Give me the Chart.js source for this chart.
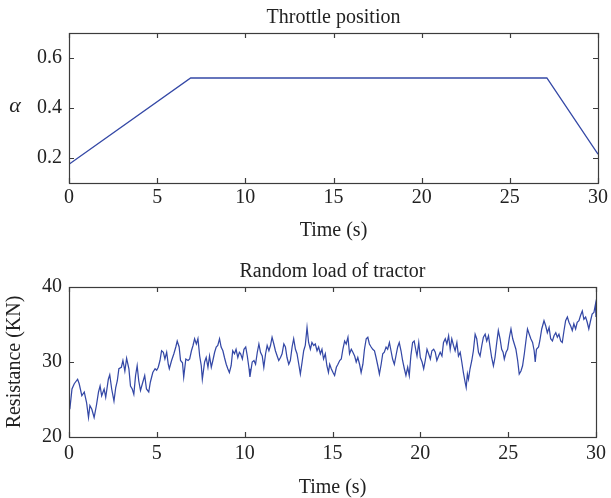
<!DOCTYPE html>
<html>
<head>
<meta charset="utf-8">
<script src="https://cdn.jsdelivr.net/npm/chart.js@4.4.1/dist/chart.umd.min.js"></script>
<style>
  body { margin: 0; background: #fff; }
  #wrap { position: relative; width: 611px; height: 498px; }
  canvas { position: absolute; left: 0; }
  #top { top: 0; }
  #bottom { top: 249px; }
</style>
</head>
<body>
<div id="wrap">
  <canvas id="top" width="611" height="249"></canvas>
  <canvas id="bottom" width="611" height="249"></canvas>
</div>
<script>
'use strict';
// throttle position (top plot)
let throttleTime = [0, 6.9, 27.1, 30];
let throttleValue = [0.175, 0.52, 0.52, 0.215];
let throttleTicks = [0.2, 0.4, 0.6];

// random load of tractor (bottom plot)
let loadTime = [0, 0.06, 0.17, 0.30, 0.49, 0.58, 0.73, 0.87, 1.0, 1.11, 1.19, 1.30, 1.43, 1.56, 1.68, 1.77, 1.86, 2.0, 2.09, 2.24,
  2.32, 2.43, 2.56, 2.66, 2.75, 2.84, 2.98, 3.07, 3.18, 3.28, 3.41, 3.50, 3.60, 3.69, 3.79, 3.88, 3.97, 4.07, 4.2, 4.31,
  4.41, 4.54, 4.63, 4.77, 4.90, 4.99, 5.08, 5.18, 5.27, 5.37, 5.46, 5.56, 5.65, 5.71, 5.84, 5.97, 6.08, 6.16, 6.27, 6.35,
  6.46, 6.53, 6.65, 6.78, 6.87, 6.97, 7.06, 7.15, 7.25, 7.34, 7.44, 7.53, 7.59, 7.72, 7.81, 7.91, 8.00, 8.10, 8.19, 8.29,
  8.38, 8.47, 8.57, 8.66, 8.76, 8.85, 8.95, 9.04, 9.13, 9.23, 9.32, 9.42, 9.51, 9.61, 9.70, 9.77, 9.87, 9.96, 10.06, 10.15,
  10.25, 10.30, 10.43, 10.53, 10.62, 10.72, 10.81, 10.90, 11.00, 11.09, 11.19, 11.28, 11.38, 11.47, 11.56, 11.66, 11.75, 11.85, 11.94, 12.04,
  12.13, 12.23, 12.32, 12.41, 12.51, 12.60, 12.70, 12.79, 12.89, 12.98, 13.08, 13.17, 13.27, 13.36, 13.45, 13.55, 13.64, 13.74, 13.83, 13.93,
  14.02, 14.12, 14.21, 14.31, 14.40, 14.49, 14.59, 14.68, 14.77, 14.84, 14.93, 15.03, 15.12, 15.22, 15.31, 15.41, 15.50, 15.59, 15.69, 15.78,
  15.88, 15.97, 16.07, 16.16, 16.26, 16.35, 16.44, 16.54, 16.63, 16.73, 16.82, 16.92, 17.01, 17.10, 17.20, 17.29, 17.39, 17.48, 17.58, 17.67,
  17.77, 17.86, 17.95, 18.05, 18.14, 18.24, 18.33, 18.42, 18.52, 18.61, 18.71, 18.80, 18.90, 18.99, 19.09, 19.18, 19.28, 19.37, 19.46, 19.56,
  19.65, 19.75, 19.81, 19.91, 20.00, 20.10, 20.19, 20.28, 20.38, 20.47, 20.57, 20.66, 20.76, 20.85, 20.94, 21.04, 21.13, 21.23, 21.32, 21.42,
  21.51, 21.61, 21.70, 21.79, 21.89, 21.98, 22.08, 22.17, 22.27, 22.36, 22.45, 22.55, 22.61, 22.68, 22.74, 22.83, 22.93, 23.02, 23.12, 23.21,
  23.31, 23.40, 23.50, 23.59, 23.69, 23.78, 23.88, 23.97, 24.06, 24.16, 24.25, 24.35, 24.44, 24.54, 24.63, 24.71, 24.78, 24.88, 24.97, 25.07,
  25.16, 25.26, 25.35, 25.44, 25.54, 25.63, 25.73, 25.82, 25.92, 26.01, 26.10, 26.20, 26.29, 26.39, 26.48, 26.54, 26.61, 26.73, 26.80, 26.91,
  27.04, 27.14, 27.23, 27.33, 27.42, 27.52, 27.61, 27.71, 27.80, 27.89, 27.99, 28.08, 28.18, 28.27, 28.37, 28.46, 28.56, 28.65, 28.74, 28.84,
  28.93, 29.03, 29.12, 29.22, 29.31, 29.41, 29.50, 29.59, 29.69, 29.78, 29.88, 29.97, 30.00];
let loadValue = [24.4, 24.0, 26.4, 27.1, 27.7, 27.1, 25.5, 26.0, 24.6, 22.6, 24.2, 23.7, 22.6, 24.2, 26.0, 26.8, 25.5, 26.4, 25.3, 27.7,
  28.3, 26.4, 24.8, 26.6, 27.5, 29.1, 29.3, 30.2, 28.8, 30.5, 29.1, 26.8, 26.4, 25.7, 28.2, 29.5, 27.5, 26.2, 27.3, 28.2,
  26.4, 26.0, 27.3, 28.6, 29.1, 28.9, 29.3, 30.2, 31.5, 31.3, 30.4, 31.3, 29.7, 29.1, 30.2, 31.1, 32.0, 32.8, 32.0, 30.2,
  29.9, 28.0, 30.4, 30.2, 30.4, 31.5, 32.2, 33.1, 32.4, 33.1, 30.8, 29.5, 27.7, 30.0, 30.6, 29.3, 30.8, 29.3, 30.2, 31.3,
  32.0, 32.2, 33.1, 32.0, 31.5, 30.6, 29.7, 29.1, 28.6, 29.5, 31.5, 31.1, 31.7, 30.6, 31.3, 31.1, 30.4, 31.7, 32.0, 30.8,
  29.1, 28.0, 30.0, 30.2, 29.7, 31.3, 32.4, 31.3, 30.8, 29.3, 31.1, 32.2, 31.5, 32.2, 33.3, 32.4, 31.5, 30.8, 30.2, 30.6,
  31.1, 32.4, 32.0, 30.6, 29.7, 30.2, 32.0, 33.1, 31.7, 31.1, 29.7, 28.4, 30.0, 31.5, 32.2, 34.6, 32.6, 31.7, 32.6, 32.2,
  32.4, 31.5, 32.0, 31.1, 31.7, 30.4, 31.1, 29.5, 28.6, 29.7, 29.1, 28.6, 28.2, 29.3, 29.7, 30.2, 30.4, 31.7, 32.8, 32.4,
  33.3, 31.1, 31.7, 31.3, 30.8, 30.0, 30.6, 29.7, 28.6, 29.7, 31.7, 33.1, 33.3, 32.4, 32.0, 31.7, 31.5, 30.6, 29.5, 28.4,
  29.7, 31.1, 31.3, 32.0, 31.7, 32.6, 31.5, 30.4, 29.7, 30.8, 32.0, 32.6, 31.5, 30.2, 29.1, 28.2, 29.3, 28.2, 30.8, 32.6,
  32.8, 31.5, 30.8, 32.6, 30.6, 30.0, 29.1, 30.2, 31.7, 31.1, 30.4, 31.5, 31.7, 31.3, 30.2, 30.8, 31.3, 30.8, 32.6, 33.1,
  32.4, 33.5, 31.7, 33.1, 32.2, 31.5, 32.6, 30.8, 31.3, 30.0, 28.6, 27.3, 26.6, 28.4, 27.7, 29.1, 30.2, 31.5, 33.7, 33.1,
  31.3, 30.8, 32.2, 33.3, 33.7, 32.8, 33.5, 32.0, 30.6, 29.5, 30.6, 32.6, 34.2, 33.1, 31.7, 31.3, 30.4, 31.3, 31.7, 33.3,
  34.4, 33.1, 32.4, 31.7, 30.2, 28.4, 28.8, 29.5, 31.1, 32.8, 34.4, 33.7, 33.1, 32.6, 31.5, 30.0, 31.7, 32.0, 32.8, 34.4,
  35.5, 34.8, 33.9, 34.6, 33.1, 32.8, 33.5, 33.9, 33.3, 33.7, 32.8, 32.6, 34.2, 35.5, 36.0, 35.3, 34.8, 34.2, 35.1, 34.4,
  35.3, 35.5, 36.2, 36.8, 35.7, 36.0, 35.3, 34.4, 35.5, 36.4, 36.6, 37.7, 36.0];
let loadTicks = [20, 30, 40];
let timeTicks = [0, 5, 10, 15, 20, 25, 30];

const serif = '"Liberation Serif", "DejaVu Serif", serif';
const lineColor = '#3448a6';
const axisColor = '#3c3c3c';
const fontSize = 20;

function pairs(xs, ys) {
  let out = [];
  for (let i = 0; i < xs.length; i++) out.push({x: xs[i], y: ys[i]});
  return out;
}

// frame with inward ticks on all four sides, like the matlab plot
const framePlugin = {
  id: 'frame',
  afterDraw(chart) {
    let ctx = chart.ctx;
    let a = chart.chartArea;
    let xs = chart.scales.x, ys = chart.scales.y;
    ctx.save();
    ctx.strokeStyle = axisColor;
    ctx.lineWidth = 1.2;
    ctx.strokeRect(Math.round(a.left) + 0.5, Math.round(a.top) + 0.5, Math.round(a.right - a.left), Math.round(a.bottom - a.top));
    ctx.beginPath();
    xs.ticks.forEach(t => {
      let px = Math.round(xs.getPixelForValue(t.value)) + 0.5;
      ctx.moveTo(px, a.bottom); ctx.lineTo(px, a.bottom - 5);
      ctx.moveTo(px, a.top); ctx.lineTo(px, a.top + 5);
    });
    ys.ticks.forEach(t => {
      let py = Math.round(ys.getPixelForValue(t.value)) + 0.5;
      ctx.moveTo(a.left, py); ctx.lineTo(a.left + 5, py);
      ctx.moveTo(a.right, py); ctx.lineTo(a.right - 5, py);
    });
    ctx.stroke();
    let side = chart.options.plugins.frame && chart.options.plugins.frame.sideLabel;
    if (side) {
      ctx.fillStyle = '#222';
      ctx.font = 'italic 22px ' + serif;
      ctx.textAlign = 'center';
      ctx.textBaseline = 'middle';
      ctx.fillText(side, 15, ys.getPixelForValue(0.4) - 2);
    }
    ctx.restore();
  }
};

function makeChart(id, opts) {
  return new Chart(document.getElementById(id), {
    type: 'line',
    data: {
      datasets: [{
        data: pairs(opts.xs, opts.ys),
        borderColor: lineColor,
        borderWidth: opts.lw,
        pointRadius: 0,
        tension: 0,
        fill: false
      }]
    },
    options: {
      responsive: false,
      animation: false,
      layout: { padding: { left: 0, right: 10, top: 0, bottom: 0 } },
      plugins: {
        legend: { display: false },
        tooltip: { enabled: false },
        title: {
          display: true,
          fullSize: false,
          text: opts.title,
          color: '#222',
          font: { family: serif, size: fontSize, weight: 'normal', lineHeight: 1.2 },
          padding: opts.titlePad
        },
        frame: { sideLabel: opts.sideLabel }
      },
      scales: {
        x: {
          type: 'linear',
          min: 0, max: 30,
          afterBuildTicks: s => { s.ticks = timeTicks.map(v => ({value: v})); },
          afterFit: s => { s.height = opts.xHeight; },
          grid: { display: false, drawTicks: false },
          border: { display: false },
          ticks: { color: '#222', padding: opts.xPad, font: { family: serif, size: fontSize } },
          title: { display: true, text: 'Time (s)', color: '#222', font: { family: serif, size: fontSize, lineHeight: 1 }, padding: { top: 0, bottom: opts.xTitlePad } }
        },
        y: {
          type: 'linear',
          min: opts.ymin, max: opts.ymax,
          afterBuildTicks: s => { s.ticks = opts.yticks.map(v => ({value: v})); },
          afterFit: s => { s.width = 69; },
          grid: { display: false, drawTicks: false },
          border: { display: false },
          ticks: { color: '#222', padding: 7, font: { family: serif, size: fontSize }, callback: opts.fmt },
          title: { display: !!opts.yTitle, text: opts.yTitle || '', color: '#222', font: { family: serif, size: fontSize, lineHeight: 1 }, padding: { top: 5, bottom: 0 } }
        }
      }
    },
    plugins: [framePlugin]
  });
}

makeChart('top', {
  xs: throttleTime, ys: throttleValue, lw: 1.3,
  title: 'Throttle position', titlePad: { top: 6, bottom: 3 },
  ymin: 0.1, ymax: 0.7, yticks: throttleTicks,
  fmt: v => v.toFixed(1), sideLabel: '\u03b1',
  xHeight: 66, xPad: 3, xTitlePad: 8
});

makeChart('bottom', {
  xs: loadTime, ys: loadValue, lw: 1.25,
  title: 'Random load of tractor', titlePad: { top: 11, bottom: 3 },
  ymin: 20, ymax: 40, yticks: loadTicks,
  fmt: v => String(v), yTitle: 'Resistance (KN)',
  xHeight: 61, xPad: 5, xTitlePad: 0
});
</script>
</body>
</html>
